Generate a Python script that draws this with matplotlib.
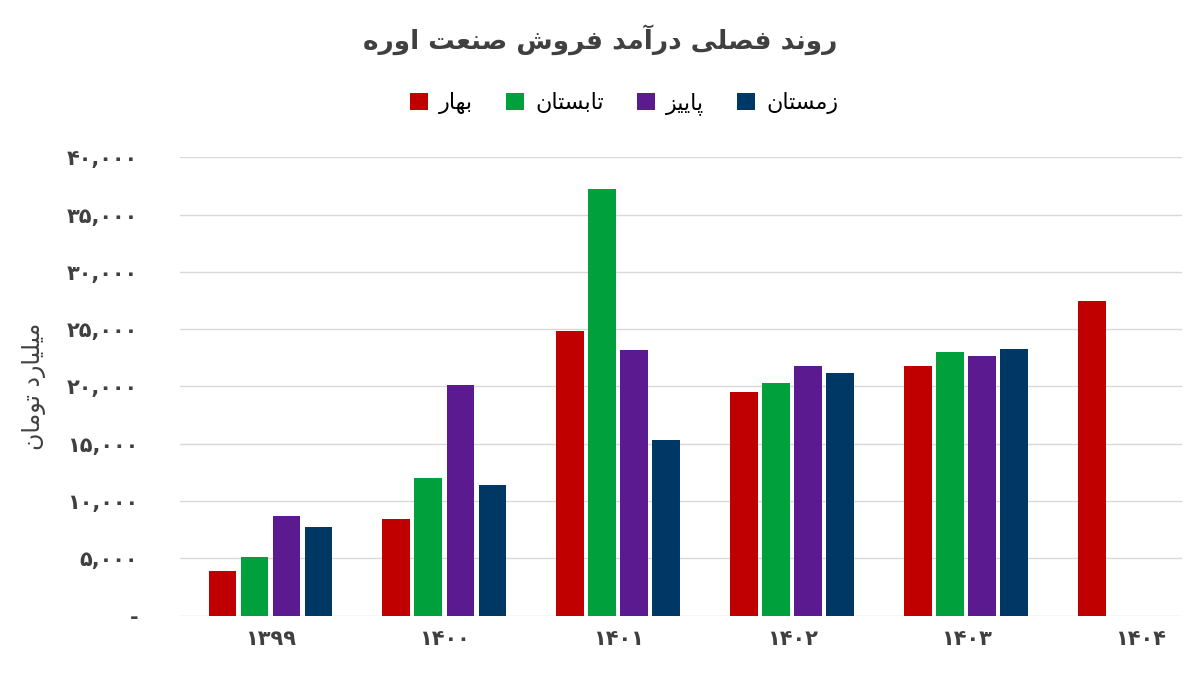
import matplotlib
matplotlib.use("Agg")
import matplotlib.pyplot as plt
import numpy as np
from matplotlib.ticker import FuncFormatter

years = ["۱۳۹۹", "۱۴۰۰", "۱۴۰۱", "۱۴۰۲", "۱۴۰۳", "۱۴۰۴"]
series_names = ["بهار", "تابستان", "پاییز", "زمستان"]
spring = [3900, 8400, 24800, 19500, 21800, 27500]
summer = [5100, 12000, 37200, 20300, 23000, np.nan]
autumn = [8700, 20100, 23200, 21800, 22700, np.nan]
winter = [7700, 11400, 15300, 21200, 23300, np.nan]
colors = ["#C00000", "#00A13C", "#5B1A8F", "#003865"]
title = "روند فصلی درآمد فروش صنعت اوره"
ylabel = "میلیارد تومان"

FORMS = {
 'ا': (0xFE8D, 0xFE8E, None, None), 'آ': (0xFE81, 0xFE82, None, None),
 'ب': (0xFE8F, 0xFE90, 0xFE91, 0xFE92), 'پ': (0xFB56, 0xFB57, 0xFB58, 0xFB59),
 'ت': (0xFE95, 0xFE96, 0xFE97, 0xFE98), 'د': (0xFEA9, 0xFEAA, None, None),
 'ر': (0xFEAD, 0xFEAE, None, None), 'ز': (0xFEAF, 0xFEB0, None, None),
 'س': (0xFEB1, 0xFEB2, 0xFEB3, 0xFEB4), 'ش': (0xFEB5, 0xFEB6, 0xFEB7, 0xFEB8),
 'ص': (0xFEB9, 0xFEBA, 0xFEBB, 0xFEBC), 'ع': (0xFEC9, 0xFECA, 0xFECB, 0xFECC),
 'ف': (0xFED1, 0xFED2, 0xFED3, 0xFED4), 'ل': (0xFEDD, 0xFEDE, 0xFEDF, 0xFEE0),
 'م': (0xFEE1, 0xFEE2, 0xFEE3, 0xFEE4), 'ن': (0xFEE5, 0xFEE6, 0xFEE7, 0xFEE8),
 'ه': (0xFEE9, 0xFEEA, 0xFEEB, 0xFEEC), 'و': (0xFEED, 0xFEEE, None, None),
 'ی': (0xFBFC, 0xFBFD, 0xFBFE, 0xFBFF),
}

def shape(s):
    out = []
    n = len(s)
    for i, c in enumerate(s):
        if c not in FORMS:
            out.append(c); continue
        f = FORMS[c]
        prev = s[i-1] if i > 0 else None
        nxt = s[i+1] if i < n-1 else None
        jp = prev in FORMS and FORMS[prev][2] is not None
        jn = nxt in FORMS and f[2] is not None
        if jp and jn: code = f[3]
        elif jp: code = f[1]
        elif jn: code = f[2]
        else: code = f[0]
        out.append(chr(code))
    return "".join(out)[::-1]

plt.rcParams['font.family'] = ['DejaVu Sans']
fig, ax = plt.subplots(figsize=(12, 6.84), dpi=100)
fig.subplots_adjust(left=0.15, right=0.985, top=0.77, bottom=0.1)

x = np.arange(len(years))
w = 0.16
step = 0.184
for i, (vals, c) in enumerate(zip([spring, summer, autumn, winter], colors)):
    ax.bar(x + (i - 1.5) * step, vals, w, color=c, label=shape(series_names[i]), zorder=3)

ax.set_ylim(0, 40000)
ax.set_yticks(np.arange(0, 40001, 5000))
PD = str.maketrans("0123456789", "۰۱۲۳۴۵۶۷۸۹")
ax.yaxis.set_major_formatter(FuncFormatter(lambda v, p: "-" if v == 0 else f"{int(v):,}".translate(PD)))
ax.set_xticks(x)
ax.set_xticklabels(years)
ax.set_xlim(-0.52, 5.24)
ax.grid(axis='y', color='#d9d9d9', lw=1, zorder=0)
for s in ax.spines.values():
    s.set_visible(False)
ax.tick_params(length=0, labelsize=15, colors='#404040', pad=10)
for t in ax.get_xticklabels() + ax.get_yticklabels():
    t.set_fontweight('bold')
ax.tick_params(axis='y', pad=30)
ax.set_ylabel(shape(ylabel), fontsize=17, color='#404040', labelpad=15)
fig.suptitle(shape(title), fontsize=19, color='#404040', y=0.965, fontweight='bold')
fig.legend(loc='upper center', bbox_to_anchor=(0.52, 0.895), ncol=4, frameon=False,
           fontsize=16, handlelength=0.8, handleheight=0.8, columnspacing=1.5, handletextpad=0.5)
fig.savefig("out.png", dpi=100)
